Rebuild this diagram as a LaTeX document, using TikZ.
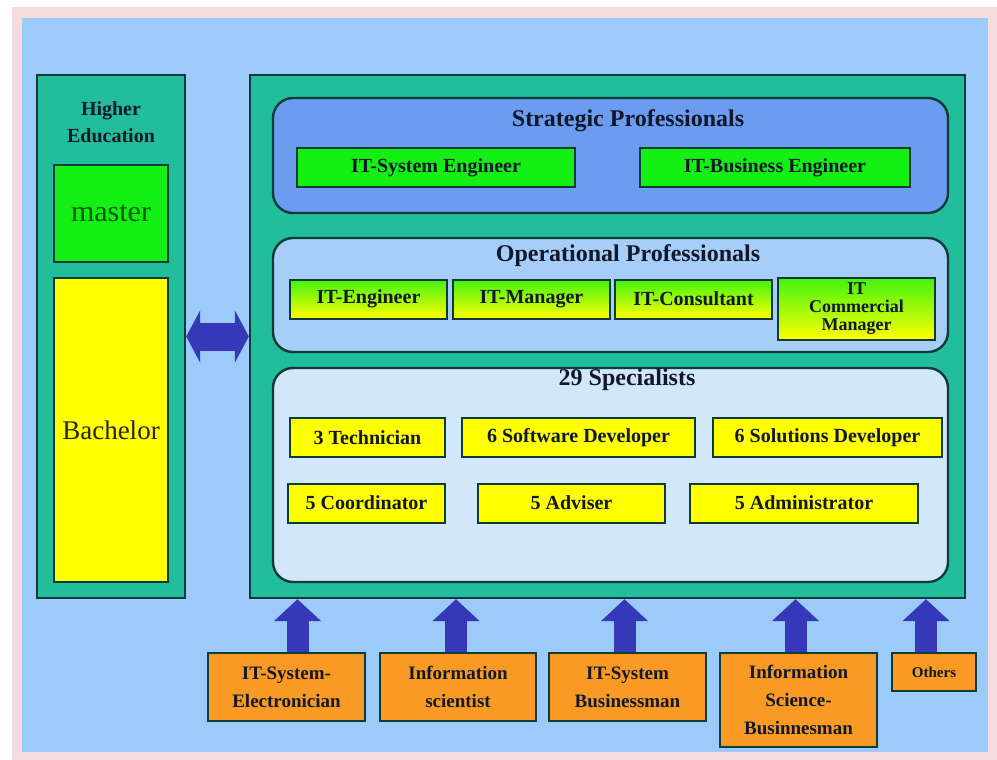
\documentclass[tikz,border=0pt]{standalone}
\usepackage{fontspec}
\setmainfont{Liberation Serif}
\usetikzlibrary{arrows.meta}

\definecolor{pinkrim}{HTML}{F6DCDE}
\definecolor{skyblue}{HTML}{9CCBFA}
\definecolor{panelteal}{HTML}{22BE9C}
\definecolor{edgedark}{HTML}{0C3B3A}
\definecolor{stratblue}{HTML}{6C9CF0}
\definecolor{operblue}{HTML}{A6CEF8}
\definecolor{specblue}{HTML}{D2E8FA}
\definecolor{jobgreen}{HTML}{14F014}
\definecolor{jobyellow}{HTML}{FFFF00}
\definecolor{srcorange}{HTML}{F99A24}
\definecolor{arrowblue}{HTML}{3538B8}
\definecolor{inktext}{HTML}{10182A}

\tikzset{
  frame/.style={draw=edgedark, line width=2.4pt},
  panel/.style={frame, fill=panelteal},
  group/.style={frame, rounded corners=20pt},
  job/.style={frame, line width=2pt, minimum height=39pt, text=inktext,
    font=\fontsize{20}{20}\selectfont\bfseries},
  greenjob/.style={job, fill=jobgreen},
  yellowjob/.style={job, fill=jobyellow},
  mixjob/.style={job, top color=jobgreen!80!jobyellow, bottom color=jobyellow},
  source/.style={frame, line width=2pt, fill=srcorange, align=center, text=inktext,
    font=\fontsize{19}{28}\selectfont\bfseries},
  heading/.style={text=inktext, font=\fontsize{24}{24}\selectfont\bfseries},
  bigarrow/.style={arrowblue, line width=22pt,
    -{Triangle[width=46pt,length=22pt]}}
}

\begin{document}
\begin{tikzpicture}[x=1pt,y=-1pt]
    \useasboundingbox (0,0) rectangle (997,760);
    \fill[pinkrim] (12,7) rectangle (997,760);
    \fill[skyblue] (22,18) rectangle (988,752);

    % higher education column
    \node[panel, minimum width=148pt, minimum height=523pt] (hedu) at (111,336.5) {};
    \node[text=inktext, align=center, font=\fontsize{20}{27}\selectfont\bfseries]
        (hedutitle) at (111,122) {Higher\\Education};
    \node[frame, fill=jobgreen, minimum width=114pt, minimum height=97pt,
        text=green!35!black, font=\fontsize{30}{30}\selectfont] (master) at (111,213.5) {master};
    \node[frame, fill=jobyellow, minimum width=114pt, minimum height=304pt,
        text=black!85, font=\fontsize{27}{27}\selectfont] (bachelor) at (111,430) {Bachelor};

    % professions panel
    \node[panel, minimum width=715pt, minimum height=523pt] (main) at (607.5,336.5) {};
    \node[group, fill=stratblue, minimum width=675pt, minimum height=115pt] (strat) at (610.5,155.5) {};
    \node[group, fill=operblue, minimum width=675pt, minimum height=114pt] (oper) at (610.5,295) {};
    \node[group, fill=specblue, minimum width=675pt, minimum height=214pt] (spec) at (610.5,475) {};

    \node[heading] (strathead) at (628,121) {Strategic Professionals};
    \node[heading] (operhead) at (628,256) {Operational Professionals};
    \node[heading] (spechead) at (627,380) {29 Specialists};

    \node[greenjob, minimum width=278pt] (syseng) at (436,167.5) {IT-System Engineer};
    \node[greenjob, minimum width=270pt] (buseng) at (775,167.5) {IT-Business Engineer};

    \node[mixjob, minimum width=157pt] (iteng) at (368.5,299) {IT-Engineer};
    \node[mixjob, minimum width=157pt] (itman) at (531.5,299) {IT-Manager};
    \node[mixjob, minimum width=157pt] (itcons) at (693.5,299) {IT-Consultant};
    \node[mixjob, minimum width=157pt, minimum height=62pt, align=center,
        font=\fontsize{18}{18}\selectfont\bfseries] (itcomm) at (856.5,309) {IT\\Commercial\\Manager};

    \node[yellowjob, minimum width=155pt] (tech) at (367.5,437.5) {3 Technician};
    \node[yellowjob, minimum width=233pt] (softdev) at (578.5,437.5) {6 Software Developer};
    \node[yellowjob, minimum width=229pt] (soldev) at (827.5,437.5) {6 Solutions Developer};
    \node[yellowjob, minimum width=157pt] (coord) at (366.5,503) {5 Coordinator};
    \node[yellowjob, minimum width=187pt] (adviser) at (571.5,503) {5 Adviser};
    \node[yellowjob, minimum width=228pt] (admin) at (804,503) {5 Administrator};

    % feeding study programmes
    \node[source, minimum width=157pt, minimum height=68pt] (elec) at (286.5,687) {IT-System-\\Electronician};
    \node[source, minimum width=156pt, minimum height=68pt] (infsci) at (458,687) {Information\\scientist};
    \node[source, minimum width=157pt, minimum height=68pt] (sysbus) at (627.5,687) {IT-System\\Businessman};
    \node[source, minimum width=157pt, minimum height=94pt] (scibus) at (798.5,700) {Information\\Science-\\Businnesman};
    \node[source, minimum width=84pt, minimum height=38pt,
        font=\fontsize{15}{15}\selectfont\bfseries] (others) at (934,672) {Others};

    \foreach \src/\dx in {elec/11,infsci/-2,sysbus/-3,scibus/-3,others/-8}
        \draw[bigarrow] ([xshift=\dx pt]\src.north) -- ([xshift=\dx pt]\src.north |- main.south);

    \draw[arrowblue, line width=28pt,
        {Triangle[width=52pt,length=14pt]}-{Triangle[width=52pt,length=14pt]}]
        (hedu.east) -- (main.west);
\end{tikzpicture}
\end{document}
